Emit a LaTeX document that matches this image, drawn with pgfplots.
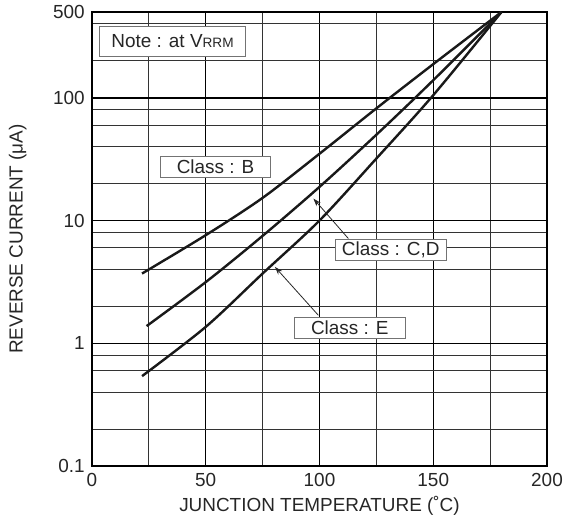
\documentclass[border=0pt]{standalone}
\usepackage{fontspec}
\setmainfont{Liberation Sans}
\usepackage{pgfplots}
\pgfplotsset{compat=1.18}
\usetikzlibrary{arrows.meta}
\newcommand{\lf}{\fontsize{14.2}{16.5}\selectfont}
\begin{document}
\begin{tikzpicture}
\begin{axis}[
  scale only axis, width=341.25pt, height=340.5pt,
  xmin=0, xmax=200, ymode=log, ymin=0.1, ymax=500,
  /pgf/number format/assume math mode=true,
  xtick={0,50,100,150,200}, xticklabels={0,50,100,150,200},
  minor xtick={25,75,125,175},
  ytick={0.1,1,10,100,500}, yticklabels={0.1,1,10,100,500},
  minor ytick={0.2,0.4,0.6,0.8,2,4,6,8,20,40,60,80,200,400},
  grid=both,
  major grid style={black, line width=1.1pt},
  minor grid style={black!80, line width=0.6pt},
  axis line style={line width=1.5pt},
  major tick length=0pt, minor tick length=0pt,
  tick style={draw=none},
  ticklabel style={font=\lf, text=black!85},
  xticklabel style={yshift=-2pt},
  yticklabel style={xshift=-2pt},
  xlabel={JUNCTION TEMPERATURE (˚C)},
  ylabel={REVERSE CURRENT (μA)},
  label style={font=\lf, text=black!85},
  xlabel style={at={(axis description cs:0.5,-0.088)}, anchor=center},
  ylabel style={at={(axis description cs:-0.163,0.5)}, anchor=center},
]
\addplot[line width=1.8pt, black!90, smooth] coordinates {
 (22,3.7) (50,7.6) (75,15.3) (100,35) (125,82) (150,188) (180,500)};
\addplot[line width=1.8pt, black!90, smooth] coordinates {
 (24,1.38) (50,3.15) (75,7.5) (100,18.8) (125,50) (150,139) (180,500)};
\addplot[line width=1.8pt, black!90, smooth] coordinates {
 (22,0.54) (50,1.36) (75,3.7) (100,10) (125,32) (150,105) (180,500)};

\tikzset{lbl/.style={draw=black!55, fill=white, line width=0.75pt, minimum width=83pt, minimum height=16pt, inner sep=0pt, font=\lf, text=black!85}}
\node[lbl, minimum width=109pt, minimum height=23pt] at (axis cs:35.4,288) {Note : at V{\fontsize{10.2}{12}\selectfont RRM}};
\node[lbl] at (axis cs:54.3,27.4) {Class : B};
\node[lbl] at (axis cs:131.3,5.73) {Class : C,D};
\node[lbl] at (axis cs:113.3,1.337) {Class : E};
\draw[-{Stealth[length=6pt,width=4pt]}, line width=0.6pt, black!85] (axis cs:112.7,7.13) -- (axis cs:97.3,15.1);
\draw[-{Stealth[length=6pt,width=4pt]}, line width=0.6pt, black!85] (axis cs:99.5,1.69) -- (axis cs:80.4,4.19);
\end{axis}
\pgfresetboundingbox
\path (-69pt,-40.5pt) rectangle (353.25pt,349.5pt);
\end{tikzpicture}
\end{document}
